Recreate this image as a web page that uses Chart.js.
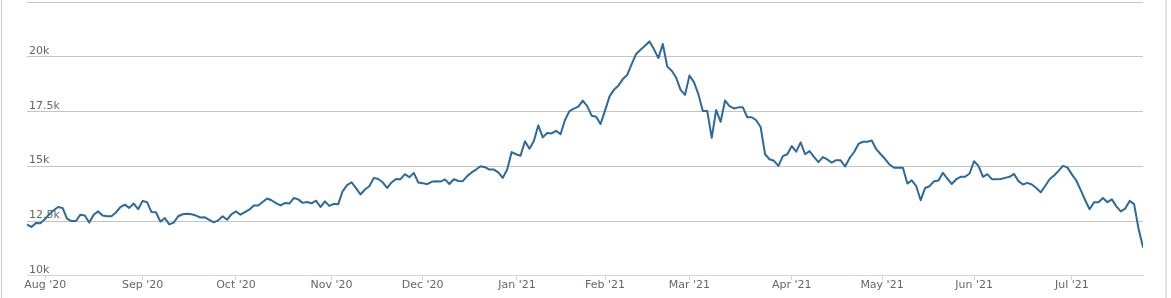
<!DOCTYPE html>
<html>
<head>
<meta charset="utf-8">
<script src="https://cdn.jsdelivr.net/npm/chart.js@4/dist/chart.umd.min.js"></script>
<style>
  html, body { margin: 0; padding: 0; background: #fff; }
  #wrap { position: relative; width: 1171px; height: 298px; overflow: hidden; }
  #chart { position: absolute; left: 0; top: 0; }
  .edge { position: absolute; top: 0; height: 298px; }
  #edge-left { left: 1px; width: 1px; background: #c9c9c9; }
  #edge-right { left: 1165px; width: 2px; background: #e2e2e2; }
</style>
</head>
<body>
<div id="wrap">
  <canvas id="chart" width="1171" height="298"></canvas>
  <div class="edge" id="edge-left"></div>
  <div class="edge" id="edge-right"></div>
</div>
<script>
// one value per trading day, 27 Jul 2020 .. 26 Jul 2021
const values = [
  12340, 12230, 12410, 12400, 12580, 12810, 12990, 13140, 13100, 12610,
  12500, 12500, 12790, 12750, 12430, 12790, 12940, 12750, 12720, 12720,
  12890, 13140, 13250, 13100, 13300, 13040, 13420, 13360, 12910, 12900,
  12470, 12640, 12350, 12430, 12720, 12810, 12830, 12810, 12750, 12660,
  12670, 12550, 12440, 12530, 12720, 12560, 12810, 12940, 12790, 12910,
  13020, 13210, 13210, 13370, 13530, 13450, 13320, 13210, 13320, 13300,
  13550, 13490, 13330, 13370, 13310, 13430, 13140, 13400, 13190, 13280,
  13270, 13870, 14140, 14270, 14000, 13710, 13940, 14090, 14470, 14420,
  14270, 14010, 14260, 14420, 14410, 14640, 14500, 14700, 14260, 14230,
  14180, 14290, 14320, 14300, 14400, 14190, 14410, 14330, 14320, 14550,
  14720, 14850, 15000, 14960, 14850, 14850, 14720, 14470, 14850, 15650,
  15550, 15480, 16140, 15800, 16150, 16870, 16320, 16520, 16500, 16620,
  16460, 17110, 17520, 17630, 17720, 18000, 17750, 17310, 17260, 16930,
  17540, 18180, 18490, 18680, 18980, 19170, 19660, 20130, 20320, 20500,
  20700, 20350, 19940, 20580, 19550, 19360, 19050, 18490, 18260, 19140,
  18840, 18290, 17520, 17520, 16300, 17570, 17030, 18000, 17750, 17640,
  17690, 17690, 17240, 17240, 17100, 16790, 15550, 15320, 15250, 15020,
  15460, 15550, 15920, 15670, 16090, 15550, 15690, 15430, 15190, 15420,
  15310, 15170, 15280, 15270, 14990, 15370, 15640, 16020, 16120, 16120,
  16180, 15780, 15550, 15330, 15080, 14930, 14930, 14930, 14210, 14360,
  14090, 13450, 14010, 14090, 14320, 14350, 14700, 14440, 14190, 14410,
  14520, 14520, 14670, 15230, 15020, 14520, 14640, 14410, 14410, 14420,
  14470, 14520, 14650, 14320, 14170, 14240, 14170, 14010, 13810, 14100,
  14410, 14580, 14790, 15020, 14950, 14630, 14350, 13910, 13450, 13040,
  13360, 13360, 13550, 13360, 13490, 13170, 12940, 13070, 13420, 13270,
  12150, 11310
];

// month starts, as positions on the trading-day index
const monthLabels = ["Aug '20", "Sep '20", "Oct '20", "Nov '20", "Dec '20", "Jan '21",
  "Feb '21", "Mar '21", "Apr '21", "May '21", "Jun '21", "Jul '21"];
const monthPos = [4.1, 26, 47, 68.5, 89, 110.2, 130, 149, 172, 192.3, 213, 235];

const yMin = 10000;
const yMax = 22500;
const yStep = 2500;

const FONT = '"DejaVu Sans", Verdana, sans-serif';
const LABEL_COLOR = '#666666';
const GRID_COLOR = '#c4c4c4';
const AXIS_COLOR = '#ccd6eb';

// y labels sit inside the plot, just above each grid line
const yLabelsInside = {
  id: 'yLabelsInside',
  afterDraw(chart) {
    const { ctx, chartArea, scales } = chart;
    const y = scales.y;
    ctx.save();
    ctx.font = `11px ${FONT}`;
    ctx.fillStyle = LABEL_COLOR;
    ctx.textAlign = 'left';
    ctx.textBaseline = 'alphabetic';
    y.ticks.forEach((t) => {
      if (t.value >= yMax) return;
      ctx.fillText(t.label, chartArea.left + 2, y.getPixelForValue(t.value) - 3);
    });
    ctx.restore();
  },
};

new Chart(document.getElementById('chart'), {
  type: 'line',
  data: {
    datasets: [{
      data: values.map((v, i) => ({ x: i, y: v })),
      borderColor: '#2c6a9d',
      borderWidth: 2,
      borderJoinStyle: 'round',
      borderCapStyle: 'round',
      pointRadius: 0,
      tension: 0,
      fill: false,
    }],
  },
  options: {
    responsive: false,
    animation: false,
    devicePixelRatio: 1,
    layout: { padding: { left: 27, right: 28, top: 2, bottom: 7 } },
    plugins: { legend: { display: false }, tooltip: { enabled: false } },
    scales: {
      x: {
        type: 'linear',
        min: 0,
        max: values.length - 1,
        afterBuildTicks: (scale) => {
          scale.ticks = monthPos.map((p) => ({ value: p }));
        },
        ticks: {
          autoSkip: false,
          maxRotation: 0,
          minRotation: 0,
          padding: -1,
          color: LABEL_COLOR,
          font: { family: FONT, size: 11 },
          callback: (value, index) => monthLabels[index],
        },
        grid: { drawOnChartArea: false, drawTicks: true, tickLength: 4, color: AXIS_COLOR },
        border: { display: true, color: AXIS_COLOR, width: 1 },
      },
      y: {
        min: yMin,
        max: yMax,
        ticks: {
          display: false,
          stepSize: yStep,
          callback: (value) => `${value / 1000}k`,
        },
        grid: {
          drawTicks: false,
          color: (c) => (c.tick && c.tick.value === yMin ? 'rgba(0,0,0,0)' : GRID_COLOR),
        },
        border: { display: false },
      },
    },
  },
  plugins: [yLabelsInside],
});
</script>
</body>
</html>
